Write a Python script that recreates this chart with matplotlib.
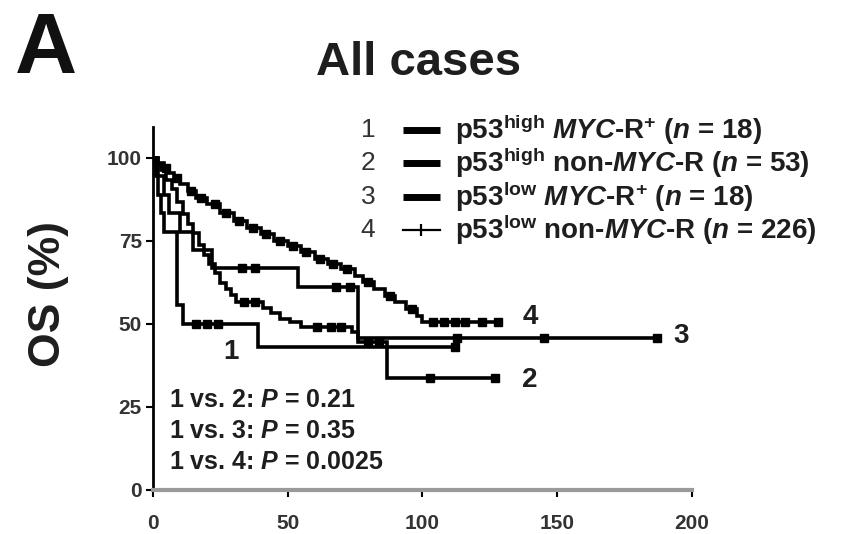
import numpy as np
import matplotlib
matplotlib.use("Agg")
import matplotlib.pyplot as plt
from matplotlib.lines import Line2D

plt.rcParams['font.family'] = ['Liberation Sans', 'DejaVu Sans']
plt.rcParams['mathtext.fontset'] = 'custom'
plt.rcParams['mathtext.rm'] = 'Liberation Sans:bold'
plt.rcParams['mathtext.it'] = 'Liberation Sans:italic:bold'
plt.rcParams['mathtext.bf'] = 'Liberation Sans:bold'

# Kaplan-Meier step knots (months, OS %)
t1 = [0, 1, 2, 3, 4, 9, 11, 39]
s1 = [100, 94.4, 88.9, 83.3, 77.8, 55.6, 50.0, 42.9]
end1 = 112
c1 = [16, 20, 24, 112]

t2 = [0, 1, 3, 5, 7, 9, 11, 13, 15, 17, 19, 21, 23, 25, 27, 29, 31, 41, 44, 47, 51, 55, 74, 76, 87]
s2 = [100, 98.1, 96.2, 93.4, 90.6, 86.8, 83, 80.2, 77.4, 73.6, 70.8, 68, 65.2, 62.4, 60.5, 58.6,
      56.6, 54.7, 53.2, 51.6, 50.6, 49.2, 47.5, 44.6, 33.8]
end2 = 127
c2 = [34, 38, 61, 66, 70, 80, 84, 103, 127]

t3 = [0, 2, 4, 6, 10, 15, 22, 54, 76]
s3 = [100, 94.4, 88.9, 83.3, 77.8, 72.2, 66.7, 61.1, 45.8]
end3 = 187
c3 = [33, 38, 68, 73, 113, 145, 187]

t4 = [0, 2, 4, 6, 8, 10, 13, 16, 20, 25, 30, 35, 40, 45, 50, 55, 60, 65, 70, 75, 78, 82, 86,
      90, 94, 98, 100]
s4 = [100, 98.5, 97, 95.5, 94, 92, 90, 88, 86, 83.5, 81, 79, 77, 75, 73.5, 71.5, 69.5, 68, 66.5,
      64.5, 62.5, 60.5, 58.5, 56.5, 54.5, 52.5, 50.6]
end4 = 128
c4 = [5, 9, 14, 18, 23, 27, 32, 37, 42, 47, 52, 57, 62, 67, 72, 80, 88, 96, 104, 108, 112, 116,
      122, 128]

labels = [r"p53$^{\mathrm{high}}$ $\mathit{MYC}$-R$^{+}$ ($\mathit{n}$ = 18)",
          r"p53$^{\mathrm{high}}$ non-$\mathit{MYC}$-R ($\mathit{n}$ = 53)",
          r"p53$^{\mathrm{low}}$ $\mathit{MYC}$-R$^{+}$ ($\mathit{n}$ = 18)",
          r"p53$^{\mathrm{low}}$ non-$\mathit{MYC}$-R ($\mathit{n}$ = 226)"]
pvals = [r"1 vs. 2: $\mathit{P}$ = 0.21",
         r"1 vs. 3: $\mathit{P}$ = 0.35",
         r"1 vs. 4: $\mathit{P}$ = 0.0025"]

txt = '#1e1e1e'
fig = plt.figure(figsize=(8.54, 5.34), dpi=100)
ax = fig.add_axes([0.179, 0.0824, 0.631, 0.680])

curves = [(t1, s1, end1, c1), (t2, s2, end2, c2), (t3, s3, end3, c3), (t4, s4, end4, c4)]
for t, s, end, cens in curves:
    tt = np.array(t + [end], dtype=float)
    ss = np.array(s + [s[-1]], dtype=float)
    ax.step(tt, ss, where='post', color='black', lw=2.6, solid_joinstyle='miter')
    idx = np.searchsorted(tt, cens, side='right') - 1
    ax.plot(cens, ss[idx], ls='none', marker='s', ms=6, color='black')

# curve number labels
ax.text(140, 52, '4', fontsize=20, color=txt, va='center', ha='center', fontweight='bold')
ax.text(196, 46.5, '3', fontsize=20, color=txt, va='center', ha='center', fontweight='bold')
ax.text(140, 33, '2', fontsize=20, color=txt, va='center', ha='center', fontweight='bold')
ax.text(29, 41.5, '1', fontsize=20, color=txt, va='center', ha='center', fontweight='bold')

for i, p in enumerate(pvals):
    ax.text(6, 27 - i * 9.3, p, fontsize=18, color=txt, va='center', ha='left',
            fontweight='bold')

ax.set_xlim(0, 200)
ax.set_ylim(0, 109.3)
ax.set_xticks([0, 50, 100, 150, 200])
ax.set_yticks([0, 25, 50, 75, 100])
for sp in ['top', 'right']:
    ax.spines[sp].set_visible(False)
ax.spines['left'].set_linewidth(2)
ax.spines['bottom'].set_linewidth(3)
ax.spines['bottom'].set_color('#9a9a9a')
ax.tick_params(length=5, width=1.5, labelsize=15, labelcolor='#333333')
ax.tick_params(axis='x', pad=12)
ax.tick_params(axis='y', pad=3)
for lb in ax.get_xticklabels() + ax.get_yticklabels():
    lb.set_fontweight('bold')
ax.set_ylabel('OS (%)', fontsize=32, color=txt, fontweight='bold')
ax.yaxis.set_label_coords(-0.155, 0.54)

fig.text(0.017, 0.905, 'A', fontsize=62, fontweight='bold', color='#111111', va='center')
fig.text(0.49, 0.882, 'All cases', fontsize=34, fontweight='bold', color=txt,
         va='center', ha='center')

# manual legend: number, sample line, label
rows = [130, 163, 197, 230]
for i, y in enumerate(rows):
    yf = 1 - y / 534
    fig.text(368 / 854, yf, str(i + 1), fontsize=19, color='#333333', va='center', ha='center')
    if i < 3:
        fig.add_artist(Line2D([403 / 854, 440 / 854], [yf, yf], color='black', lw=5,
                              solid_capstyle='butt'))
    else:
        fig.add_artist(Line2D([403 / 854, 440 / 854], [yf, yf], color='black', lw=1.6))
        fig.add_artist(Line2D([421 / 854], [yf], marker='|', ms=8, mew=1.6, color='black'))
    fig.text(455 / 854, yf, labels[i], fontsize=20, color=txt, va='center', ha='left',
             fontweight='bold')

fig.savefig('out.png', dpi=100)
